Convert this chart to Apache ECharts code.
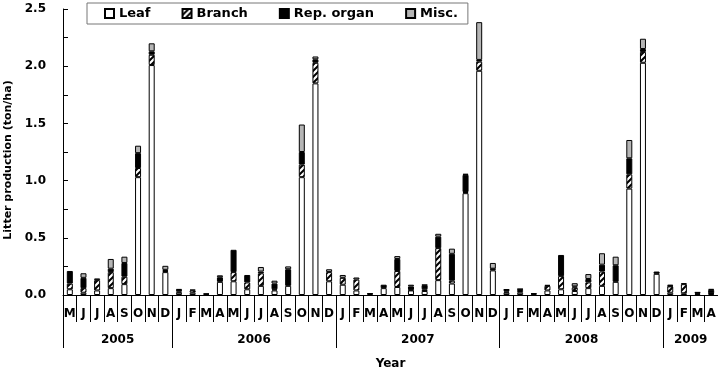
<!DOCTYPE html>
<html><head><meta charset="utf-8">
<script src="https://cdn.jsdelivr.net/npm/echarts@6/dist/echarts.min.js"></script>
<style>html,body{margin:0;padding:0;background:#fff}#c{width:718px;height:367px}</style>
</head><body><div id="c"></div>
<script>
const months = ['M','J','J','A','S','O','N','D',
  'J','F','M','A','M','J','J','A','S','O','N','D',
  'J','F','M','A','M','J','J','A','S','O','N','D',
  'J','F','M','A','M','J','J','A','S','O','N','D',
  'J','F','M','A'];
const yearLabels = ['2005','2006','2007','2008','2009'];
const monthsPerYear = [8,12,12,12,4];
const seriesNames = ['Leaf','Branch','Rep. organ','Misc.'];
const leaf = [0.05,0.02,0.04,0.06,0.095,1.03,2.01,0.2,
  0.02,0.02,0.008,0.115,0.12,0.05,0.08,0.04,0.08,1.03,1.85,0.12,
  0.09,0.04,0.01,0.06,0.07,0.04,0.035,0.13,0.1,0.89,1.96,0.215,
  0.02,0.02,0.01,0.04,0.05,0.035,0.06,0.08,0.115,0.93,2.03,0.185,
  0.02,0.015,0.01,0.01];
const branch = [0.05,0.04,0.09,0.14,0.065,0.08,0.09,0.01,
  0.01,0.02,0,0,0.08,0.06,0.11,0.01,0,0.11,0.18,0.08,
  0.06,0.095,0,0,0.14,0.005,0.015,0.28,0.025,0.01,0.08,0.01,
  0.01,0.015,0,0.04,0.115,0.03,0.05,0.125,0,0.125,0.095,0,
  0.055,0.08,0,0.005];
const repOrgan = [0.11,0.09,0,0.03,0.12,0.13,0.03,0.01,
  0.015,0,0,0.04,0.195,0.065,0.015,0.05,0.145,0.11,0.03,0,
  0,0,0,0.03,0.105,0.03,0.035,0.1,0.235,0.15,0.015,0.005,
  0.015,0.015,0,0,0.185,0.01,0.03,0.06,0.145,0.14,0.025,0.02,
  0.005,0,0.01,0.03];
const misc = [0,0.04,0.015,0.085,0.055,0.065,0.07,0.035,
  0.007,0.007,0.005,0.017,0,0,0.04,0.025,0.025,0.24,0.025,0.025,
  0.025,0.018,0.006,0,0.025,0.015,0.005,0.025,0.045,0.01,0.33,0.05,
  0.005,0.003,0.005,0.008,0,0.028,0.043,0.1,0.075,0.16,0.09,0,
  0.01,0.008,0.005,0.008];

function hatch(){
  const c=document.createElement('canvas'); c.width=6; c.height=6;
  const g=c.getContext('2d'); g.fillStyle='#fff'; g.fillRect(0,0,6,6);
  g.strokeStyle='#000'; g.lineWidth=2; g.beginPath();
  g.moveTo(-1,7); g.lineTo(7,-1);
  g.moveTo(-4,4); g.lineTo(4,-4);
  g.moveTo(2,10); g.lineTo(10,2);
  g.stroke();
  return c;
}
const bounds=[0]; monthsPerYear.forEach(n=>bounds.push(bounds[bounds.length-1]+n));
const mids=monthsPerYear.map((n,i)=>bounds[i]+n/2);
const FONT='DejaVu Sans';
const colors=['#ffffff',{image:hatch(),repeat:'repeat'},'#000000','#b5b5b5'];
const datas=[leaf,branch,repOrgan,misc];
const series=seriesNames.map((nm,i)=>({name:nm,type:'bar',stack:'t',xAxisIndex:0,yAxisIndex:0,
  barWidth:6,data:datas[i].map(v=>v===0?'-':v),
  itemStyle:{color:colors[i],borderColor:'#000',borderWidth:1}}));
const chart=echarts.init(document.getElementById('c'),null,{renderer:'canvas'});
chart.setOption({
  animation:false,backgroundColor:'#fff',
  textStyle:{fontFamily:FONT},
  grid:{left:63,right:0,top:9,bottom:72,outerBoundsMode:'none',containLabel:false},
  legend:{data:seriesNames,left:87,top:3,padding:[4,10,4,17],itemGap:31,itemWidth:9,itemHeight:9,
    icon:'rect',borderColor:'#777',borderWidth:1,backgroundColor:'#fff',
    textStyle:{fontFamily:FONT,fontWeight:'bold',fontSize:13,color:'#000'}},
  xAxis:[{type:'category',data:months,boundaryGap:true,position:'bottom',
    axisLine:{lineStyle:{color:'#000',width:1}},
    axisTick:{show:true,interval:0,length:27,lineStyle:{color:'#000'}},
    axisLabel:{interval:0,margin:13,fontFamily:FONT,fontWeight:'bold',fontSize:12,color:'#000'}},
   {type:'value',min:0,max:48,position:'bottom',
    name:'Year',nameLocation:'middle',nameGap:63,
    nameTextStyle:{fontFamily:FONT,fontWeight:'bold',fontSize:12,color:'#000'},
    axisLine:{show:false},splitLine:{show:false},
    axisTick:{show:true,customValues:bounds,length:53,lineStyle:{color:'#000'}},
    axisLabel:{customValues:mids,margin:39,fontFamily:FONT,fontWeight:'bold',fontSize:12,color:'#000',
      formatter:v=>{const k=mids.indexOf(v);return k>=0?yearLabels[k]:'';}}}],
  yAxis:{type:'value',min:0,max:2.5,interval:0.25,
    name:'Litter production (ton/ha)',nameLocation:'middle',nameGap:47,
    nameTextStyle:{fontFamily:FONT,fontWeight:'bold',fontSize:11,color:'#000',padding:[0,16,0,0]},
    axisLine:{show:true,lineStyle:{color:'#000'}},splitLine:{show:false},
    axisTick:{show:true,inside:true,length:5,lineStyle:{color:'#000'}},
    axisLabel:{margin:17,fontFamily:FONT,fontWeight:'bold',fontSize:12,color:'#000',
      formatter:v=>(Math.round(v*100)%50===0?v.toFixed(1):'')}},
  series:series
});
</script></body></html>
